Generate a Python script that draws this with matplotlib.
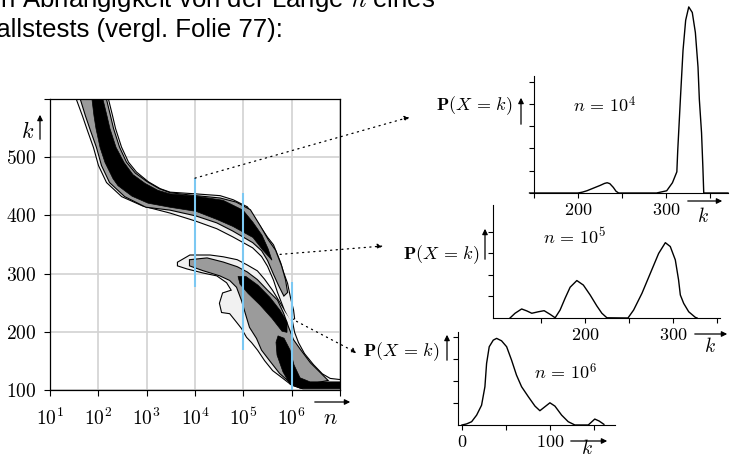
import matplotlib.pyplot as plt
from matplotlib.patches import FancyArrowPatch, ConnectionPatch
import numpy as np

plt.rcParams['font.family'] = ['Liberation Sans', 'DejaVu Sans']
plt.rcParams['mathtext.fontset'] = 'cm'

W, H = 733, 457

# ---- main chart: density of k over log10(n) ----
decades = [1, 2, 3, 4, 5, 6, 7]
decade_labels = ['$10^{1}$', '$10^{2}$', '$10^{3}$', '$10^{4}$', '$10^{5}$', '$10^{6}$', '']
k_ticks = [100, 200, 300, 400, 500, 600]
k_labels = ['$100$', '$200$', '$300$', '$400$', '$500$', '']

# contour regions as (log10 n, k) outlines
upper_light = [(1.497, 614), (1.559, 599), (1.683, 571), (1.786, 546), (1.910, 517), (2.014, 486),
               (2.179, 457), (2.490, 433), (2.924, 417), (3.483, 405), (4.021, 391), (4.455, 378),
               (4.786, 364), (5.200, 345), (5.386, 330), (5.511, 313), (5.635, 289), (5.718, 268),
               (5.862, 237), (5.966, 220), (6.049, 223), (6.028, 237), (5.966, 258), (5.904, 283),
               (5.821, 302), (5.759, 319), (5.614, 349), (5.490, 362), (5.283, 388), (5.076, 414),
               (4.786, 426), (4.517, 433), (4.021, 436), (3.483, 439), (3.276, 445), (3.028, 457),
               (2.779, 474), (2.614, 491), (2.469, 517), (2.345, 549), (2.283, 571), (2.200, 599),
               (2.221, 614)]
upper_gray = [(1.600, 614), (1.641, 599), (1.745, 571), (1.848, 546), (1.972, 517), (2.076, 486),
              (2.241, 457), (2.552, 433), (2.986, 415), (3.483, 410), (4.021, 400), (4.455, 388),
              (4.786, 374), (5.200, 354), (5.386, 340), (5.511, 323), (5.635, 299), (5.739, 280),
              (5.842, 263), (5.904, 268), (5.862, 289), (5.780, 313), (5.655, 340), (5.511, 357),
              (5.345, 381), (5.138, 409), (4.848, 422), (4.517, 429), (4.021, 433), (3.483, 438),
              (3.255, 445), (3.007, 457), (2.759, 472), (2.573, 491), (2.428, 517), (2.304, 549),
              (2.241, 571), (2.159, 599), (2.180, 614)]
upper_black = [(1.848, 614), (1.869, 599), (1.910, 571), (1.952, 549), (2.035, 517), (2.138, 491),
               (2.304, 463), (2.407, 451), (2.697, 433), (3.028, 421), (3.483, 414), (4.021, 407),
               (4.455, 393), (4.786, 381), (5.200, 362), (5.407, 340), (5.593, 323), (5.511, 343),
               (5.386, 366), (5.200, 388), (4.993, 409), (4.580, 426), (4.021, 433), (3.483, 437),
               (3.235, 443), (2.966, 455), (2.717, 470), (2.531, 491), (2.366, 517), (2.241, 549),
               (2.179, 571), (2.097, 599), (2.097, 614)]
lower_light = [(3.648, 319), (3.897, 331), (4.311, 331), (4.580, 328), (4.869, 323), (5.076, 314),
               (5.283, 304), (5.428, 290), (5.593, 271), (5.718, 254), (5.862, 234), (6.007, 217),
               (6.049, 199), (6.131, 181), (6.256, 162), (6.442, 143), (6.628, 127), (6.793, 119),
               (7.000, 117), (7.104, 117), (7.104, 103), (6.235, 103), (6.007, 109), (5.821, 121),
               (5.614, 134), (5.449, 151), (5.304, 169), (5.180, 182), (5.076, 191), (4.973, 206),
               (4.869, 217), (4.724, 232), (4.559, 234), (4.517, 249), (4.580, 266), (4.766, 271),
               (4.662, 285), (4.455, 297), (4.166, 302), (3.835, 309), (3.648, 314)]
lower_gray = [(3.897, 323), (4.249, 326), (4.580, 319), (4.869, 311), (5.076, 302), (5.283, 289),
              (5.490, 271), (5.697, 254), (5.821, 232), (5.925, 208), (6.028, 186), (6.173, 169),
              (6.380, 146), (6.587, 129), (6.731, 117), (6.235, 109), (5.966, 114), (5.759, 129),
              (5.552, 151), (5.386, 169), (5.283, 189), (5.138, 208), (5.076, 225), (4.973, 254),
              (4.869, 277), (4.724, 289), (4.517, 297), (4.166, 306), (3.897, 314)]
lower_black_a = [(4.890, 295), (5.055, 295), (5.304, 280), (5.552, 259), (5.759, 237), (5.904, 217),
                 (5.904, 199), (5.800, 201), (5.593, 223), (5.345, 246), (5.097, 266), (4.931, 282)]
lower_black_b = [(5.718, 193), (5.842, 189), (5.966, 169), (6.049, 143), (6.173, 121), (6.380, 114),
                 (7.104, 114), (7.104, 103), (6.173, 103), (5.966, 110), (5.821, 131), (5.697, 160),
                 (5.676, 182)]

# vertical slices: (log10 n, k from, k to)
slices = [(4, 277, 464), (5, 169, 438), (6, 100, 285)]

# ---- distributions P(X=k) for the three slices ----
k_1e4 = [145, 200, 205, 210, 215, 220, 225, 230, 233, 236, 240, 243, 246, 289, 300.5, 307, 312, 313,
         316, 319, 322, 325.5, 329.5, 333, 336, 337.5, 340, 341.5, 342.5, 370]
p_1e4 = [0, 0, 0.04, 0.1, 0.18, 0.26, 0.34, 0.43, 0.46, 0.42, 0.25, 0.08, 0, 0, 0.1, 0.46, 0.95, 1.9,
         4.2, 6.4, 7.75, 8.35, 8.1, 7.2, 5.65, 4.2, 2.7, 1.17, 0, 0]
k_1e5 = [114.8, 120.5, 128, 133.8, 139.5, 147, 153.5, 160.3, 166, 171.6, 177.3, 183, 190.6, 198,
         205.7, 213.3, 219, 224.7, 248.6, 255, 264.5, 274, 283.4, 291, 296.6, 302.3, 306, 308,
         311.8, 317.5, 325, 327]
p_1e5 = [0, 0.22, 0.42, 0.33, 0.22, 0.29, 0.34, 0.17, 0.01, 0.37, 0.92, 1.43, 1.74, 1.53, 1.07, 0.56,
         0.22, 0.01, 0, 0.37, 1.15, 2.08, 3.0, 3.5, 3.32, 2.7, 1.77, 1.07, 0.68, 0.29, 0.03, 0]
k_1e6 = [0, 5.3, 11, 16.7, 22.3, 26.1, 28, 31, 35.6, 39.4, 45, 50.8, 56.4, 62, 67.8, 75.4, 83, 88.6,
         94.3, 100, 105.7, 113.3, 120.8, 128.4, 143.6, 151, 156, 161.4]
p_1e6 = [0, 0.05, 0.15, 0.45, 0.9, 1.74, 2.8, 3.56, 3.86, 3.94, 3.83, 3.56, 2.95, 2.27, 1.74, 1.29,
         0.86, 0.65, 0.83, 1.01, 0.86, 0.45, 0.15, 0, 0, 0.27, 0.18, 0.03]


def box(x0, y0, x1, y1):
    return [x0 / W, 1 - y1 / H, (x1 - x0) / W, (y1 - y0) / H]


def fxy(x, y):
    return (x / W, 1 - y / H)


def arrow(x0, y0, x1, y1):
    fig.add_artist(FancyArrowPatch(fxy(x0, y0), fxy(x1, y1), transform=fig.transFigure,
                                   arrowstyle='-|>', mutation_scale=8, lw=0.9, color='black'))


def label(x, y, s, size=14, ha='center'):
    fig.text(x / W, 1 - y / H, s, fontsize=size, ha=ha, va='center')


def layer(ax, polys, color, z):
    # outline of the union, then fill over the inner edges
    for p in polys:
        e, k = zip(*p)
        ax.fill(10 ** np.array(e), k, facecolor=color, edgecolor='black', lw=1.6, zorder=z)
    for p in polys:
        e, k = zip(*p)
        ax.fill(10 ** np.array(e), k, facecolor=color, edgecolor='none', zorder=z + 0.05)


fig = plt.figure(figsize=(W / 100, H / 100), dpi=100)

ax = fig.add_axes(box(50, 99, 340, 390))
ax.set_xscale('log')
ax.set_xlim(10, 1e7)
ax.set_ylim(100, 600)
ax.set_xticks([10.0 ** d for d in decades], decade_labels)
ax.xaxis.set_minor_formatter(plt.NullFormatter())
ax.set_yticks(k_ticks, k_labels)
ax.tick_params(axis='x', which='major', direction='out', length=4, width=0.8, pad=9, labelsize=14)
ax.tick_params(axis='x', which='minor', direction='out', length=2, width=0.6)
ax.tick_params(axis='y', direction='out', length=4.5, width=0.8, pad=5, labelsize=14)
ax.grid(True, which='major', color='#d2d2d2', lw=1.2)
ax.set_axisbelow(True)
for s in ax.spines.values():
    s.set_linewidth(0.9)

layer(ax, [upper_light, lower_light], '#f1f1f1', 1.0)
layer(ax, [upper_gray, lower_gray], '#9b9b9b', 1.3)
for p in [upper_black, lower_black_a, lower_black_b]:
    e, k = zip(*p)
    ax.fill(10 ** np.array(e), k, facecolor='black', edgecolor='black', lw=0.5, zorder=1.6)
for d, k0, k1 in slices:
    ax.vlines(10.0 ** d, k0, k1, color='#7cc8f2', lw=1.5, zorder=2)

label(28, 132, '$k$', 16)
arrow(40, 142, 40, 112)
label(330, 418, '$n$', 16)
arrow(312, 402, 353, 402)

# insets
insets = [
    (box(530, 76, 728, 193), k_1e4, p_1e4, (145.5, 370), 5.25, [1, 2, 3, 4, 5],
     [150, 200, 250, 300, 350], ['', '$200$', '', '$300$', ''], 150),
    (box(493, 205, 720, 318), k_1e5, p_1e5, (95.5, 353), 5.25, [1, 2, 3, 4],
     [150, 200, 250, 300, 350], ['', '$200$', '', '$300$', ''], None),
    (box(458, 332, 615, 425), k_1e6, p_1e6, (-4.5, 174), 4.23, [1, 2, 3, 4],
     [0, 50, 100, 150], ['$0$', '', '$100$', ''], None),
]
for rect, ks, ps, xl, ytop, yt, xt, xtl, spine_at in insets:
    a = fig.add_axes(rect)
    a.patch.set_alpha(0)
    a.plot(ks, ps, color='black', lw=1.0, clip_on=False)
    a.set_xlim(*xl)
    a.set_ylim(0, ytop)
    a.set_yticks(yt, [''] * len(yt))
    a.set_xticks(xt, xtl)
    a.spines['top'].set_visible(False)
    a.spines['right'].set_visible(False)
    for s in ('left', 'bottom'):
        a.spines[s].set_linewidth(0.8)
    if spine_at is not None:
        a.spines['left'].set_position(('data', spine_at))
    a.tick_params(direction='out', length=3.5, width=0.8, pad=3, labelsize=13)

p_label = r'$\mathbf{P}(X\,=\,k)$'
label(513, 106, p_label, 13, ha='right')
arrow(521, 127, 521, 95)
label(605, 106, r'$n\,=\,10^4$', 13)
arrow(685, 201, 725, 201)
label(703, 216, '$k$')

label(480, 255, p_label, 13, ha='right')
arrow(485, 262, 485, 226)
label(575, 237, r'$n\,=\,10^5$', 13)
arrow(692, 334, 730, 334)
label(710, 346, '$k$')

label(440, 352, p_label, 13, ha='right')
arrow(447, 363, 447, 332)
label(566, 373, r'$n\,=\,10^6$', 13)
arrow(568, 441, 610, 441)
label(587, 448, '$k$')

# dotted pointers from the slices to the insets
for start, end in [((1e4, 464), (410, 117)), ((10 ** 5.76, 333), (383, 246)), ((10 ** 6.1, 218), (357, 353))]:
    fig.add_artist(ConnectionPatch(xyA=start, coordsA=ax.transData, xyB=fxy(*end),
                                   coordsB=fig.transFigure, arrowstyle='-|>', mutation_scale=8,
                                   lw=0.9, ls=(0, (1, 3.5)), color='black'))

# heading text, cut at the left edge
fig.text(435 / W, 1 - 7 / H, 'in Abhängigkeit von der Länge $n$ eines', fontsize=18.5,
         ha='right', va='baseline')
fig.text(283 / W, 1 - 37 / H, 'Zufallstests (vergl. Folie 77):', fontsize=18.5,
         ha='right', va='baseline')

fig.savefig('out.png', dpi=100)
